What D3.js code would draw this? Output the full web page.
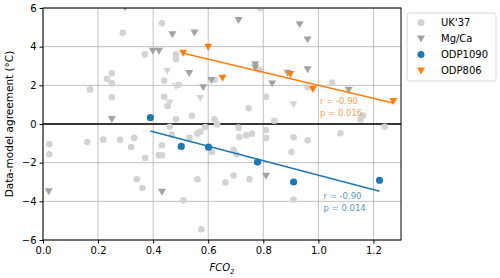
<!DOCTYPE html>
<html>
<head>
<meta charset="utf-8">
<script src="https://cdn.jsdelivr.net/npm/d3@7"></script>
<style>
  body { margin: 0; background: #fff; }
  svg { font-family: "DejaVu Sans", sans-serif; }
</style>
</head>
<body>
<svg id="chart" width="500" height="278"></svg>
<script>
// UK'37 proxy points [FCO2, agreement]
const uk37 = [
  [0.432, 5.21], [0.29, 4.72], [0.37, 3.6], [0.483, 3.6], [0.483, 3.35],
  [0.623, 2.28], [0.44, 2.24], [0.492, 2.03], [0.25, 2.62], [0.232, 2.33],
  [0.25, 2.1], [0.171, 1.79], [0.25, 1.38], [0.44, 1.41], [0.452, 0.93],
  [0.541, 0.43], [0.483, 0.24], [0.623, 0.24], [0.632, -0.02], [0.747, 0.81],
  [0.71, -0.19], [0.46, -0.14], [0.571, -0.4], [0.789, 5.99], [0.787, 2.79],
  [0.961, 1.9], [1.05, 2.14], [0.81, 1.41], [0.84, 0.17], [1.162, 0.44],
  [1.153, 0.23], [1.241, -0.14], [1.08, -0.48], [0.81, -0.31], [0.81, -0.72],
  [0.91, -0.69], [0.961, -0.84], [0.902, -1.45], [0.023, -1.05], [0.023, -1.57],
  [0.161, -0.93], [0.219, -0.81], [0.28, -0.81], [0.331, -0.72], [0.32, -1.19],
  [0.371, -1.76], [0.341, -2.86], [0.361, -3.31], [0.42, -1.62], [0.432, -1.62],
  [0.432, -1.1], [0.51, -3.95], [0.561, -2.86], [0.575, -5.45], [0.662, -3.03],
  [0.692, -2.66], [0.75, -2.86], [0.468, -0.55], [0.532, -0.72], [0.561, -0.5],
  [0.589, -0.16], [0.713, -0.67], [0.738, -0.59], [0.759, -0.5], [0.613, -1.45],
  [0.692, -1.33], [0.702, -1.57], [0.91, -3.91]
];
// Mg/Ca proxy points
const mgca = [
  [0.298, 6.04], [0.47, 4.64], [0.55, 4.74], [0.399, 3.79], [0.421, 3.79],
  [0.531, 2.64], [0.611, 2.28], [0.582, 1.91], [0.25, 0.26], [0.71, 5.38],
  [0.932, 5.16], [0.961, 4.38], [0.771, 3.1], [0.771, 2.93], [0.888, 2.65],
  [0.961, 2.83], [0.832, 2.1], [1.11, 1.78], [0.021, -3.47], [0.432, -3.5],
  [0.81, -2.67]
];
// faint Mg/Ca points
const mgcaFaint = [
  [0.451, 2.76], [0.483, 1.97], [0.571, 1.35], [0.46, 1.11], [0.91, 1.02]
];
const odp1090 = [[0.39, 0.33], [0.502, -1.16], [0.601, -1.2], [0.779, -1.97], [0.91, -3.0], [1.222, -2.91]];
const odp806 = [[0.509, 3.69], [0.60, 4.0], [0.652, 2.4], [0.898, 2.59], [0.98, 1.81], [1.272, 1.19]];
const stats1090 = ["r = -0.90", "p = 0.014"];
const stats806 = ["r = -0.90", "p = 0.016"];
const xTicks = [0, 0.2, 0.4, 0.6, 0.8, 1.0, 1.2];
const yTicks = [-6, -4, -2, 0, 2, 4, 6];
const legendNames = ["UK'37", "Mg/Ca", "ODP1090", "ODP806"];

const blue = "#1f77b4", orange = "#ff7f0e";
const mLeft = 43, mTop = 8, w = 358, h = 232;

const svg = d3.select("#chart");
const x = d3.scaleLinear().domain([0, 1.3]).range([mLeft, mLeft + w]);
const y = d3.scaleLinear().domain([-6, 6]).range([mTop + h, mTop]);

svg.append("defs").append("clipPath").attr("id", "clip")
  .append("rect").attr("x", mLeft).attr("y", mTop).attr("width", w).attr("height", h);

// grid
svg.append("g").selectAll("line").data(xTicks).enter().append("line")
  .attr("x1", d => x(d)).attr("x2", d => x(d)).attr("y1", mTop).attr("y2", mTop + h)
  .attr("stroke", "#b0b0b0").attr("stroke-width", 0.8);
svg.append("g").selectAll("line").data(yTicks).enter().append("line")
  .attr("x1", mLeft).attr("x2", mLeft + w).attr("y1", d => y(d)).attr("y2", d => y(d))
  .attr("stroke", "#b0b0b0").attr("stroke-width", 0.8);

// zero line
svg.append("line").attr("x1", mLeft).attr("x2", mLeft + w)
  .attr("y1", y(0)).attr("y2", y(0)).attr("stroke", "#000").attr("stroke-width", 1.5);

const plot = svg.append("g").attr("clip-path", "url(#clip)");
const tri = d3.symbol().type(d3.symbolTriangle).size(28);

function drawCircles(data, color, r) {
  plot.append("g").selectAll("circle").data(data).enter().append("circle")
    .attr("cx", d => x(d[0])).attr("cy", d => y(d[1])).attr("r", r).attr("fill", color);
}
function drawTris(data, color) {
  plot.append("g").selectAll("path").data(data).enter().append("path")
    .attr("d", tri)
    .attr("transform", d => `translate(${x(d[0])},${y(d[1]) - 0.6}) rotate(180)`)
    .attr("fill", color);
}

drawCircles(uk37, "#d3d3d3", 3.3);
drawTris(mgcaFaint, "#d6d6d6");
drawTris(mgca, "#a3a3a3");

// least-squares fit line over the x range of the series
function fitLine(data, color) {
  const mx = d3.mean(data, d => d[0]), my = d3.mean(data, d => d[1]);
  const slope = d3.sum(data, d => (d[0] - mx) * (d[1] - my)) / d3.sum(data, d => (d[0] - mx) ** 2);
  const ext = d3.extent(data, d => d[0]);
  const pts = ext.map(v => [v, my + slope * (v - mx)]);
  plot.append("path").datum(pts)
    .attr("d", d3.line().x(d => x(d[0])).y(d => y(d[1])))
    .attr("stroke", color).attr("stroke-width", 1.5).attr("fill", "none");
}
fitLine(odp1090, blue);
fitLine(odp806, orange);

drawCircles(odp1090, blue, 3.6);
drawTris(odp806, orange);

function stats(lines, color, px, py) {
  svg.append("g").selectAll("text").data(lines).enter().append("text")
    .attr("x", px).attr("y", (d, i) => py + i * 12)
    .attr("font-size", "8.5px").attr("fill", color).attr("fill-opacity", 0.8)
    .text(d => d);
}
stats(stats806, orange, 320, 104);
stats(stats1090, blue, 323.5, 198.5);

// axes
const xAxis = svg.append("g").attr("transform", `translate(0,${mTop + h})`)
  .call(d3.axisBottom(x).tickValues(xTicks).tickFormat(d3.format(".1f")).tickSize(3.5).tickPadding(3));
const yAxis = svg.append("g").attr("transform", `translate(${mLeft},0)`)
  .call(d3.axisLeft(y).tickValues(yTicks).tickFormat(d => d < 0 ? "\u2212" + Math.abs(d) : d).tickSize(3.5).tickPadding(3));
[xAxis, yAxis].forEach(a => {
  a.selectAll("text").attr("font-size", "10px").attr("fill", "#000").attr("font-family", "DejaVu Sans");
  a.selectAll(".tick line").attr("stroke", "#000");
  a.select(".domain").remove();
});

svg.append("rect").attr("x", mLeft).attr("y", mTop).attr("width", w).attr("height", h)
  .attr("fill", "none").attr("stroke", "#000").attr("stroke-width", 1);

svg.append("text").attr("transform", `translate(9,${mTop + h / 2}) rotate(-90)`)
  .attr("text-anchor", "middle").attr("font-size", "10.5px").attr("dy", "0.35em")
  .text("Data-model agreement (\u00b0C)");

const xl = svg.append("text").attr("x", mLeft + w / 2).attr("y", 271)
  .attr("text-anchor", "middle").attr("font-size", "10px").attr("font-style", "italic");
xl.append("tspan").text("FCO");
xl.append("tspan").attr("font-size", "7px").attr("dy", 2.5).text("2");

// legend
const lg = svg.append("g");
lg.append("rect").attr("x", 407).attr("y", 13).attr("width", 89).attr("height", 68)
  .attr("rx", 2.5).attr("fill", "#fff").attr("stroke", "#cccccc").attr("stroke-width", 0.8);
const legendStyle = [
  { shape: "c", color: "#d3d3d3" },
  { shape: "t", color: "#a3a3a3" },
  { shape: "c", color: blue },
  { shape: "t", color: orange }
];
legendNames.forEach((name, i) => {
  const ly = 22.5 + i * 16;
  const st = legendStyle[i];
  if (st.shape === "c") {
    lg.append("circle").attr("cx", 421).attr("cy", ly).attr("r", 3.5).attr("fill", st.color);
  } else {
    lg.append("path").attr("d", tri).attr("transform", `translate(421,${ly - 0.6}) rotate(180)`).attr("fill", st.color);
  }
  lg.append("text").attr("x", 441).attr("y", ly).attr("dy", "0.35em")
    .attr("font-size", "10px").text(name);
});
</script>
</body>
</html>
